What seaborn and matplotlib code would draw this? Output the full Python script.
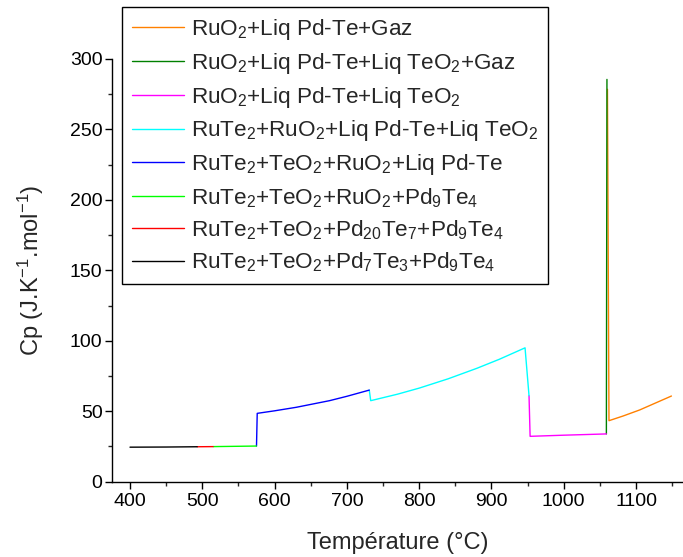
import numpy as np
import pandas as pd
import matplotlib
matplotlib.use('Agg')
import matplotlib.pyplot as plt
from matplotlib.ticker import MultipleLocator
import seaborn as sns

# Cp curve pieces, one per phase domain
x_black = [400, 450, 493]
y_black = [24.5, 24.6, 24.8]

x_red = [493, 515]
y_red = [24.8, 24.9]

x_lime = [515, 545, 575]
y_lime = [24.9, 25.1, 25.3]

x_blue = [575, 576, 600, 630, 676, 700, 731]
y_blue = [25.3, 48.5, 50.3, 52.8, 57.5, 60.6, 65.0]

x_cyan = [731, 733, 770, 800, 840, 880, 911, 946.5, 952]
y_cyan = [65.0, 57.5, 62.1, 66.4, 73.0, 80.5, 86.9, 95.0, 61.0]

x_magenta = [952, 953.5, 1000, 1059]
y_magenta = [61.0, 32.2, 33.0, 33.9]

x_dkgreen = [1059, 1059.8]
y_dkgreen = [33.9, 285.5]

x_orange = [1060.5, 1062.6, 1082, 1105, 1149]
y_orange = [278.5, 43.3, 46.6, 50.9, 60.8]

labels = [
    r'RuO$_2$+Liq Pd-Te+Gaz',
    r'RuO$_2$+Liq Pd-Te+Liq TeO$_2$+Gaz',
    r'RuO$_2$+Liq Pd-Te+Liq TeO$_2$',
    r'RuTe$_2$+RuO$_2$+Liq Pd-Te+Liq TeO$_2$',
    r'RuTe$_2$+TeO$_2$+RuO$_2$+Liq Pd-Te',
    r'RuTe$_2$+TeO$_2$+RuO$_2$+Pd$_9$Te$_4$',
    r'RuTe$_2$+TeO$_2$+Pd$_{20}$Te$_7$+Pd$_9$Te$_4$',
    r'RuTe$_2$+TeO$_2$+Pd$_7$Te$_3$+Pd$_9$Te$_4$',
]
colors = ['#FF8000', '#008000', '#FF00FF', '#00FFFF',
          '#0000FF', '#00FF00', '#FF0000', '#000000']
xs = [x_orange, x_dkgreen, x_magenta, x_cyan, x_blue, x_lime, x_red, x_black]
ys = [y_orange, y_dkgreen, y_magenta, y_cyan, y_blue, y_lime, y_red, y_black]

sns.set_style('ticks')
plt.rcParams['font.family'] = ['Liberation Sans', 'DejaVu Sans']
plt.rcParams['mathtext.default'] = 'regular'
plt.rcParams['mathtext.fontset'] = 'custom'
plt.rcParams['mathtext.rm'] = 'Liberation Sans'

fig = plt.figure(figsize=(6.83, 5.57), dpi=100)
ax = fig.add_axes([0.1644, 0.1352, 0.8356, 0.7589])

for x, y, c, lab in zip(xs, ys, colors, labels):
    sns.lineplot(x=x, y=y, estimator=None, sort=False, color=c, lw=1.0,
                 label=lab, ax=ax)

ax.set_xlim(375.5, 1165)
ax.set_ylim(0, 300)
ax.xaxis.set_major_locator(MultipleLocator(100))
ax.xaxis.set_minor_locator(MultipleLocator(50))
ax.yaxis.set_major_locator(MultipleLocator(50))
ax.yaxis.set_minor_locator(MultipleLocator(25))
ax.tick_params(which='major', direction='out', length=5, width=1,
               labelsize=14, colors='black', pad=2)
ax.tick_params(axis='x', which='major', pad=3)
ax.tick_params(which='minor', direction='out', length=3, width=1)
for s in ['top', 'right']:
    ax.spines[s].set_visible(False)
for s in ['left', 'bottom']:
    ax.spines[s].set_color('black')
    ax.spines[s].set_linewidth(1)

ax.set_xlabel('Température (°C)', fontsize=17, labelpad=16)
ax.set_ylabel(r'Cp (J.K$^{-1}$.mol$^{-1}$)', fontsize=17, labelpad=17)

leg = ax.legend(loc='upper left', bbox_to_anchor=(0.017, 1.123),
                borderaxespad=0, fontsize=16.2, frameon=True, fancybox=False,
                framealpha=1, edgecolor='black', handlelength=2.3,
                handletextpad=0.3, borderpad=0.45, labelspacing=0.39)
leg.get_frame().set_linewidth(1)

fig.savefig('out.png', dpi=100)
